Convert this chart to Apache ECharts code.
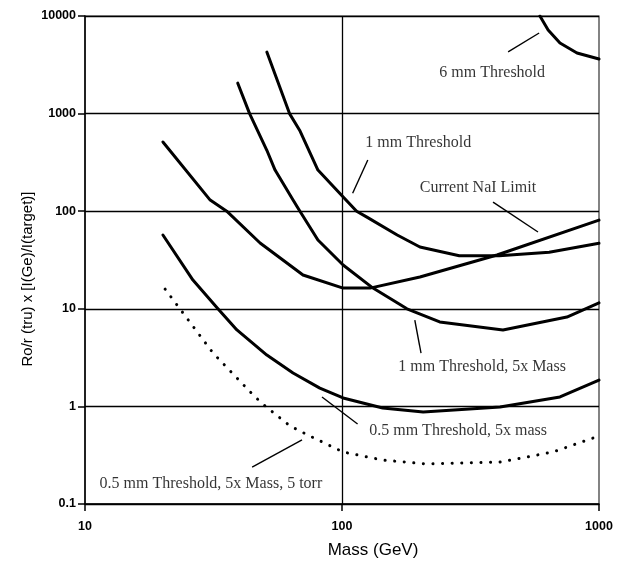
<!DOCTYPE html>
<html>
<head>
<meta charset="utf-8">
<script src="https://cdn.jsdelivr.net/npm/echarts@6/dist/echarts.min.js"></script>
<style>html,body{margin:0;padding:0;background:#fff}#c{width:617px;height:568px}</style>
</head>
<body>
<div id="c"></div>
<script>
// ---- data ----
const mass6mm = [589, 634, 705, 821, 1000];
const val6mm  = [10000, 7200, 5280, 4180, 3620];

const mass1mm = [51, 62.5, 68.4, 80.6, 99.6, 114, 125, 164, 201, 286, 409, 640, 1000];
const val1mm  = [4270, 1000, 676, 264, 146, 100, 87, 57, 43, 35, 35, 38, 47];

const mass1mm5x = [39.3, 43.7, 51, 54.9, 64.5, 68.6, 80.6, 101, 132, 179, 240, 423, 750, 1000];
const val1mm5x  = [2050, 1000, 421, 264, 130, 100, 50.7, 28.1, 16.3, 10, 7.33, 6.07, 8.24, 11.5];

const massNaI = [20.1, 30.7, 35.6, 48, 70.5, 101, 128.5, 201, 401, 1000];
const valNaI  = [512, 130, 100, 47.2, 22.2, 16.3, 16.3, 21.2, 35.6, 81];

const mass05mm = [20.1, 26.3, 32.9, 39, 51, 64.5, 82, 101, 144, 207, 412, 705, 1000];
const val05mm  = [57, 19.7, 10, 6.07, 3.36, 2.2, 1.54, 1.22, 0.963, 0.877, 0.986, 1.25, 1.86];

const mass5torr = [20.5, 23.4, 31.5, 45.9, 50.2, 62.8, 75, 101, 144, 214, 412, 662, 948];
const val5torr  = [15.9, 10, 3.52, 1.25, 1.01, 0.63, 0.497, 0.341, 0.282, 0.257, 0.269, 0.341, 0.474];

const xTickLabels = ['10', '100', '1000'];
const yTickLabels = ['0.1', '1', '10', '100', '1000', '10000'];

const annotationText = ['6 mm Threshold', '1 mm Threshold', 'Current NaI Limit',
  '1 mm Threshold, 5x Mass', '0.5 mm Threshold, 5x mass', '0.5 mm Threshold, 5x Mass, 5 torr'];
const annotationMass = [384, 198, 338, 351, 283, 30.9];
const annotationVal  = [2606, 500, 173, 2.53, 0.56, 0.160];

const leaderMass1 = [443, 126, 387, 192, 83.6, 44.7];
const leaderVal1  = [4280, 335, 124, 7.67, 1.25, 0.239];
const leaderMass2 = [585, 110, 579, 203, 115, 69.9];
const leaderVal2  = [6700, 153, 61.2, 3.52, 0.66, 0.453];

const gridLineMass = [100];

// ---- build ----
const zip = (xs, ys) => xs.map((x, i) => [x, ys[i]]);
const solid = (name, xs, ys) => ({
  name, type: 'line', data: zip(xs, ys), symbol: 'none', smooth: false, clip: true,
  lineStyle: { color: '#000', width: 3, cap: 'round', join: 'round' }, z: 5
});

const series = [
  solid('6 mm Threshold', mass6mm, val6mm),
  solid('1 mm Threshold', mass1mm, val1mm),
  solid('1 mm Threshold, 5x Mass', mass1mm5x, val1mm5x),
  solid('Current NaI Limit', massNaI, valNaI),
  solid('0.5 mm Threshold, 5x mass', mass05mm, val05mm),
  {
    name: '0.5 mm Threshold, 5x Mass, 5 torr', type: 'line', data: zip(mass5torr, val5torr),
    symbol: 'none', clip: true, z: 5,
    lineStyle: { color: '#000', width: 3, type: [0.1, 9.5], cap: 'round' }
  },
  {
    name: 'grid100', type: 'line', data: [], symbol: 'none',
    markLine: {
      silent: true, symbol: 'none', label: { show: false },
      lineStyle: { color: '#000', width: 1.3, type: 'solid' },
      data: gridLineMass.map(m => ({ xAxis: m }))
    }
  },
  {
    name: 'labels', type: 'scatter', symbolSize: 1, z: 10,
    itemStyle: { color: 'rgba(0,0,0,0)' },
    data: annotationText.map((t, i) => ({ value: [annotationMass[i], annotationVal[i]], name: t })),
    label: {
      show: true, position: 'inside', formatter: p => p.name,
      fontFamily: '"Liberation Serif", "DejaVu Serif", serif', fontSize: 16, color: '#000',
      align: 'center', verticalAlign: 'middle'
    }
  }
];
annotationText.forEach((t, i) => {
  series.push({
    name: 'leader' + i, type: 'line', symbol: 'none', z: 4,
    data: [[leaderMass1[i], leaderVal1[i]], [leaderMass2[i], leaderVal2[i]]],
    lineStyle: { color: '#000', width: 1.4 }
  });
});

const chart = echarts.init(document.getElementById('c'), null, { renderer: 'canvas' });
chart.setOption({
  animation: false,
  backgroundColor: '#fff',
  grid: { left: 85, right: 18, top: 16, bottom: 64, show: true, borderColor: '#333', borderWidth: 1.2 },
  xAxis: {
    type: 'log', logBase: 10, min: 10, max: 1000,
    name: 'Mass (GeV)', nameLocation: 'middle', nameGap: 38,
    nameTextStyle: { fontFamily: '"Liberation Sans", Arial, sans-serif', fontSize: 17, color: '#000', padding: [0, 0, 0, 62] },
    axisLine: { show: true, lineStyle: { color: '#000', width: 1.5 } },
    axisTick: { show: true, inside: false, length: 7, lineStyle: { color: '#000', width: 1.5 } },
    minorTick: { show: false },
    splitLine: { show: false },
    axisLabel: {
      margin: 16, color: '#000', fontFamily: '"Liberation Sans", Arial, sans-serif', fontSize: 12.5, fontWeight: 'bold',
      formatter: v => xTickLabels[Math.round(Math.log10(v)) - 1]
    }
  },
  yAxis: {
    type: 'log', logBase: 10, min: 0.1, max: 10000,
    name: 'Ro/r (tru) x [I(Ge)/I(target)]', nameLocation: 'middle', nameGap: 50, nameMoveOverlap: false,
    nameTextStyle: { fontFamily: '"Liberation Sans", Arial, sans-serif', fontSize: 15, color: '#000', padding: [0, 38, 0, 0] },
    axisLine: { show: true, lineStyle: { color: '#000', width: 1.5 } },
    axisTick: { show: true, inside: false, length: 7, lineStyle: { color: '#000', width: 1.5 } },
    minorTick: { show: false },
    splitLine: { show: true, lineStyle: { color: '#000', width: 1.3 } },
    axisLabel: {
      margin: 9, color: '#000', fontFamily: '"Liberation Sans", Arial, sans-serif', fontSize: 12.5, fontWeight: 'bold',
      formatter: v => yTickLabels[Math.round(Math.log10(v)) + 1]
    }
  },
  series
});
</script>
</body>
</html>
